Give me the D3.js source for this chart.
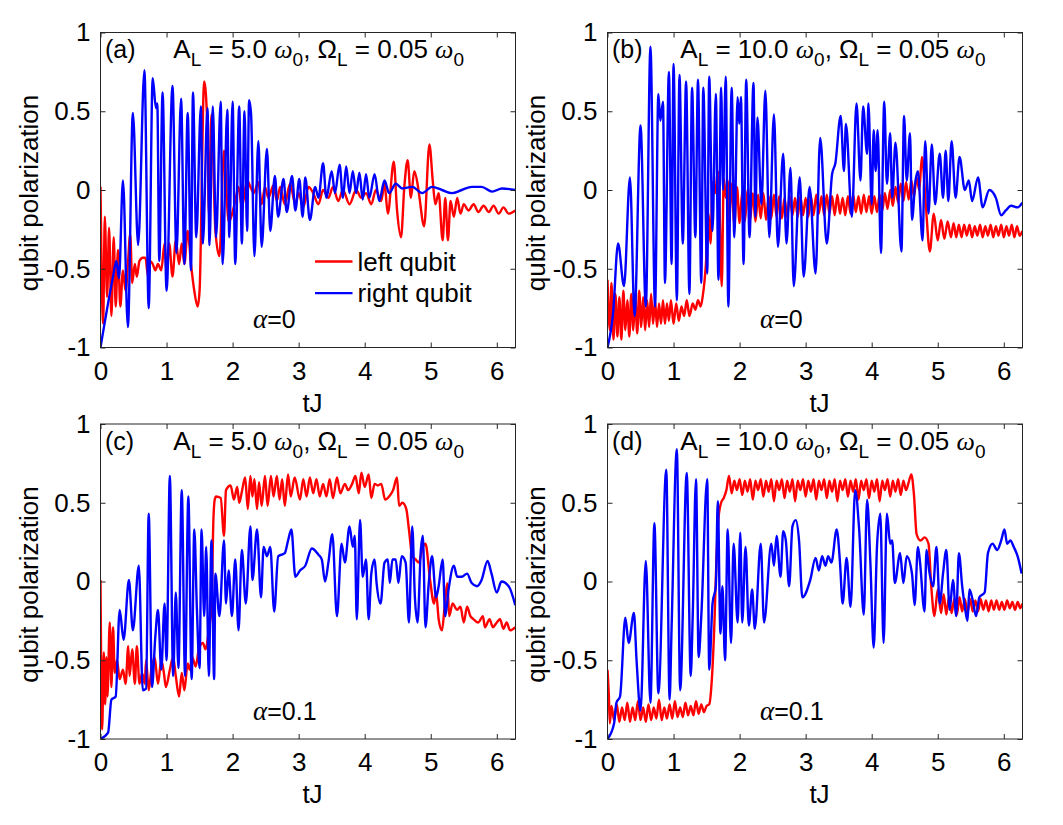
<!DOCTYPE html>
<html>
<head>
	<title>qubit polarization</title>
	<meta charset="utf-8">
	<script type="text/javascript" src="https://d3js.org/d3.v7.min.js"></script>
	<style type="text/css">
		body { margin: 0; background: #fff; }
		svg { font-family: "Liberation Sans", Arial, Helvetica, sans-serif; }
		.axis line { stroke: #262626; }
		.axis text { font-size: 26px; fill: #000; }
		.frame { fill: none; stroke: #262626; stroke-width: 1; }
		.curve { fill: none; stroke-width: 2.4; stroke-linejoin: round; }
		.greek { font-family: "Liberation Serif", "DejaVu Serif", serif; font-style: italic; }
		.title { font-size: 25px; white-space: pre; }
		.formula { font-size: 26px; white-space: pre; }
		.label { font-size: 26px; }
	</style>
</head>
<body>
<script type="text/javascript">
	var width = 1063;
	var height = 825;
	var plotW = 415;
	var plotH = 315;

	var tTicks = [0, 1, 2, 3, 4, 5, 6];
	var yTicks = [-1, -0.5, 0, 0.5, 1];
	var panelTags = ["(a)", "(b)", "(c)", "(d)"];
	var ampL = ["5.0", "10.0", "5.0", "10.0"];
	var omegaL = ["0.05", "0.05", "0.05", "0.05"];
	var alphaVals = ["0", "0", "0.1", "0.1"];
	var seriesNames = ["left qubit", "right qubit"];
	var seriesColors = ["#ff0000", "#0000ff"];

	// series as [tJ, polarization]
	var aLeft = [[0,.02],[.04,-.85],[.065,-.17],[.10,-.68],[.13,-.24],[.165,-.80],[.20,-.30],[.23,-.74],[.265,-.38],[.30,-.74],[.34,-.51],[.38,-.64],[.415,-.47],[.45,-.28],[.48,-.59],[.52,-.47],[.55,-.55],[.59,-.45],[.64,-.43],[.68,-.43],[.72,-.55],[.74,-.45],[.79,-.47],[.83,-.51],[.87,-.47],[.92,-.51],[.97,-.34],[1.0,-.53],[1.04,-.34],[1.09,-.55],[1.14,-.32],[1.19,-.47],[1.23,-.34],[1.27,-.47],[1.32,-.26],[1.37,-.47],[1.42,-.64],[1.47,-.74],[1.50,-.64],[1.57,.69],[1.62,.38],[1.64,-.15],[1.68,.48],[1.74,-.26],[1.80,-.42],[1.87,.25],[1.94,-.20],[2.04,-.07],[2.09,.02],[2.14,-.11],[2.22,.06],[2.27,.02],[2.32,-.02],[2.39,.05],[2.44,-.09],[2.49,.02],[2.54,-.05],[2.62,.03],[2.67,-.07],[2.72,.02],[2.79,-.09],[2.87,.04],[2.95,-.09],[3.0,-.02],[3.07,-.11],[3.15,.02],[3.22,-.02],[3.30,-.09],[3.37,0],[3.45,-.05],[3.52,.02],[3.60,-.07],[3.67,0],[3.77,-.09],[3.87,0],[3.95,-.05],[4.02,-.02],[4.10,-.09],[4.17,0],[4.25,-.07],[4.30,.04],[4.35,-.15],[4.44,.18],[4.49,-.13],[4.55,-.30],[4.60,.02],[4.65,.19],[4.70,-.05],[4.75,.12],[4.80,.04],[4.83,-.05],[4.90,-.23],[4.98,.29],[5.03,.06],[5.07,-.09],[5.12,-.02],[5.18,-.32],[5.22,-.05],[5.26,-.32],[5.30,-.07],[5.35,-.17],[5.40,-.05],[5.45,-.15],[5.50,-.09],[5.57,-.13],[5.65,-.09],[5.72,-.14],[5.80,-.10],[5.88,-.14],[5.95,-.10],[6.03,-.15],[6.10,-.11],[6.18,-.15],[6.28,-.13]];
	var aRight = [[0,-1],[.19,-.55],[.24,-.45],[.28,-.56],[.34,.06],[.415,-.87],[.49,.49],[.57,-.35],[.665,.76],[.73,-.75],[.79,.71],[.84,.52],[.86,.55],[.89,-.45],[.94,.62],[1.0,-.64],[1.09,.66],[1.15,-.40],[1.22,.58],[1.27,-.47],[1.32,.49],[1.37,-.51],[1.40,.62],[1.45,-.30],[1.52,.53],[1.55,-.34],[1.62,.52],[1.65,-.35],[1.70,.53],[1.75,-.30],[1.82,.56],[1.85,-.47],[1.92,.51],[1.95,-.30],[2.0,.56],[2.04,-.47],[2.10,.53],[2.14,-.34],[2.18,.50],[2.22,-.26],[2.25,.57],[2.28,.48],[2.33,-.42],[2.39,.31],[2.44,-.36],[2.52,.26],[2.57,-.26],[2.64,.09],[2.69,-.17],[2.77,.07],[2.82,-.14],[2.90,.09],[2.95,-.13],[3.01,.07],[3.06,-.17],[3.10,.08],[3.17,-.19],[3.25,.02],[3.30,-.05],[3.37,.17],[3.42,-.05],[3.50,.12],[3.55,-.02],[3.62,.16],[3.67,-.05],[3.72,.15],[3.77,-.02],[3.82,.12],[3.87,-.02],[3.92,.11],[3.97,-.06],[4.02,.10],[4.07,-.05],[4.15,.10],[4.22,-.07],[4.30,.06],[4.37,-.02],[4.47,.04],[4.57,.01],[4.72,.02],[4.87,-.02],[5.02,.02],[5.17,0],[5.32,-.02],[5.47,0],[5.62,.02],[5.77,.02],[5.93,-.01],[6.08,.01],[6.28,0]];

	var bLeft = [[0,-.57],[.035,-.89],[.06,-.59],[.09,-.95],[.12,-.66],[.15,-.93],[.18,-.68],[.21,-.95],[.24,-.64],[.27,-.89],[.30,-.70],[.33,-.93],[.36,-.66],[.39,-.89],[.42,-.68],[.45,-.91],[.48,-.64],[.51,-.87],[.54,-.68],[.57,-.89],[.60,-.70],[.63,-.87],[.66,-.66],[.69,-.85],[.72,-.70],[.75,-.87],[.78,-.72],[.81,-.85],[.84,-.70],[.87,-.85],[.90,-.72],[.93,-.83],[.96,-.70],[1.0,-.85],[1.04,-.72],[1.08,-.83],[1.12,-.74],[1.16,-.80],[1.20,-.70],[1.24,-.80],[1.29,-.72],[1.33,-.76],[1.37,-.70],[1.41,-.74],[1.44,-.68],[1.49,-.47],[1.53,-.15],[1.56,-.34],[1.59,.05],[1.63,-.02],[1.67,.12],[1.70,-.17],[1.73,-.61],[1.76,.08],[1.79,-.05],[1.82,.06],[1.84,-.20],[1.88,.04],[1.92,-.22],[1.96,.02],[2.00,-.21],[2.04,-.01],[2.08,-.20],[2.12,0],[2.16,-.19],[2.20,-.02],[2.24,-.20],[2.28,-.03],[2.32,-.18],[2.36,-.02],[2.40,-.19],[2.44,-.04],[2.48,-.18],[2.52,-.03],[2.56,-.17],[2.60,-.04],[2.64,-.18],[2.68,-.05],[2.72,-.17],[2.76,-.04],[2.80,-.16],[2.84,-.05],[2.88,-.17],[2.92,-.04],[2.96,-.16],[3.00,-.05],[3.04,-.17],[3.08,-.04],[3.12,-.16],[3.16,-.03],[3.20,-.15],[3.24,-.04],[3.28,-.16],[3.32,-.03],[3.36,-.15],[3.40,-.04],[3.44,-.16],[3.48,-.03],[3.52,-.15],[3.56,-.05],[3.60,-.16],[3.64,-.04],[3.68,-.15],[3.72,-.03],[3.76,-.14],[3.80,-.04],[3.84,-.15],[3.88,-.03],[3.92,-.14],[3.96,-.04],[4.00,-.15],[4.04,-.04],[4.08,-.14],[4.12,-.03],[4.16,-.13],[4.20,-.02],[4.24,-.12],[4.28,0],[4.32,-.10],[4.36,.02],[4.40,-.08],[4.44,.04],[4.48,-.07],[4.52,.05],[4.56,-.06],[4.60,.06],[4.64,-.04],[4.68,.08],[4.72,0],[4.76,.21],[4.82,-.10],[4.88,-.39],[4.94,-.15],[5.00,-.32],[5.05,-.19],[5.10,-.31],[5.15,-.20],[5.20,-.30],[5.24,-.21],[5.28,-.30],[5.32,-.22],[5.36,-.30],[5.40,-.22],[5.44,-.29],[5.48,-.22],[5.52,-.30],[5.56,-.23],[5.60,-.29],[5.64,-.22],[5.68,-.30],[5.72,-.23],[5.76,-.29],[5.80,-.22],[5.84,-.30],[5.88,-.23],[5.92,-.29],[5.96,-.22],[6.00,-.30],[6.04,-.23],[6.08,-.29],[6.12,-.22],[6.16,-.30],[6.20,-.23],[6.24,-.29],[6.28,-.26]];
	var bRight = [[0,-1],[.085,-.78],[.16,-.34],[.25,-.61],[.34,.08],[.41,-.80],[.50,.41],[.58,-.74],[.65,.91],[.72,-.74],[.77,.61],[.80,.44],[.84,.56],[.87,-.59],[.93,.75],[.97,-.47],[1.0,.80],[1.05,-.70],[1.09,.73],[1.14,-.34],[1.19,.69],[1.24,-.66],[1.28,.65],[1.33,-.30],[1.37,.70],[1.42,-.59],[1.45,.65],[1.51,-.53],[1.54,.72],[1.59,-.26],[1.64,.61],[1.68,-.57],[1.72,.65],[1.75,0],[1.79,.72],[1.83,-.74],[1.88,.65],[1.92,-.30],[1.97,.59],[1.995,.42],[2.02,.59],[2.06,-.47],[2.10,.70],[2.15,-.30],[2.21,.68],[2.24,-.17],[2.27,.46],[2.33,-.09],[2.39,.63],[2.45,-.30],[2.52,.48],[2.58,-.36],[2.66,.23],[2.71,-.34],[2.77,.14],[2.82,-.61],[2.91,.08],[2.97,-.55],[3.06,.02],[3.15,-.53],[3.22,.33],[3.32,-.34],[3.40,.10],[3.45,.17],[3.53,.47],[3.58,.12],[3.61,.42],[3.70,-.17],[3.77,.55],[3.83,.06],[3.87,.53],[3.93,.23],[3.95,.55],[4.0,-.09],[4.03,.38],[4.06,.12],[4.09,.38],[4.14,-.40],[4.19,.56],[4.23,.04],[4.28,.36],[4.31,-.05],[4.36,.30],[4.45,-.39],[4.49,.47],[4.53,.06],[4.58,.36],[4.61,-.19],[4.66,.05],[4.70,.12],[4.77,-.32],[4.81,.31],[4.86,-.15],[4.91,.29],[4.96,-.09],[5.03,.23],[5.08,-.05],[5.12,.25],[5.16,-.07],[5.21,.31],[5.27,-.05],[5.33,.21],[5.41,0],[5.47,.06],[5.52,-.07],[5.61,.08],[5.68,-.11],[5.78,0],[5.88,-.05],[5.96,-.16],[6.03,-.13],[6.11,-.10],[6.21,-.11],[6.28,-.08]];

	var cLeft = [[0,.01],[.025,-.94],[.05,-.45],[.07,-.78],[.09,-.48],[.105,-.73],[.14,-.26],[.165,-.67],[.19,-.29],[.215,-.58],[.25,-.50],[.29,-.62],[.34,-.56],[.38,-.65],[.42,-.41],[.44,-.60],[.48,-.43],[.52,-.65],[.55,-.41],[.59,-.65],[.63,-.58],[.67,-.65],[.69,-.50],[.73,-.69],[.77,-.56],[.82,-.48],[.87,-.65],[.92,-.50],[.96,-.58],[.99,-.67],[1.05,-.56],[1.10,-.48],[1.14,-.60],[1.19,-.73],[1.23,-.58],[1.27,-.69],[1.32,-.52],[1.35,-.56],[1.39,-.48],[1.44,-.54],[1.49,-.43],[1.55,-.39],[1.59,-.43],[1.64,-.31],[1.68,-.16],[1.71,.40],[1.73,.52],[1.75,.54],[1.82,.53],[1.87,.29],[1.90,.58],[1.97,.61],[2.02,.52],[2.07,.60],[2.10,.50],[2.14,.57],[2.19,.66],[2.23,.46],[2.27,.67],[2.30,.54],[2.33,.65],[2.37,.46],[2.40,.63],[2.44,.48],[2.49,.67],[2.53,.48],[2.58,.67],[2.62,.54],[2.67,.67],[2.71,.52],[2.75,.65],[2.79,.48],[2.84,.68],[2.88,.54],[2.94,.66],[3.02,.52],[3.07,.65],[3.12,.54],[3.17,.66],[3.22,.56],[3.27,.65],[3.32,.54],[3.37,.62],[3.42,.54],[3.47,.65],[3.52,.53],[3.58,.66],[3.63,.56],[3.70,.62],[3.75,.58],[3.81,.62],[3.86,.67],[3.91,.56],[3.95,.69],[4.0,.60],[4.06,.68],[4.10,.53],[4.15,.62],[4.20,.61],[4.25,.62],[4.31,.52],[4.37,.54],[4.43,.58],[4.49,.66],[4.52,.48],[4.57,.50],[4.63,.46],[4.67,.33],[4.72,.16],[4.77,.14],[4.82,.12],[4.88,.22],[4.92,.24],[4.99,.01],[5.05,-.14],[5.08,-.07],[5.12,-.24],[5.17,-.31],[5.21,-.16],[5.25,-.01],[5.28,-.22],[5.33,-.14],[5.40,-.18],[5.45,-.16],[5.50,-.26],[5.55,-.16],[5.60,-.22],[5.65,-.24],[5.72,-.26],[5.79,-.22],[5.82,-.29],[5.89,-.24],[5.94,-.29],[6.0,-.26],[6.05,-.24],[6.10,-.30],[6.15,-.26],[6.20,-.31],[6.28,-.29]];
	var cRight = [[0,-1],[.115,-.96],[.165,-.75],[.23,-.73],[.29,-.18],[.35,-.37],[.43,.01],[.49,-.31],[.58,.10],[.64,-.69],[.69,-.68],[.73,.43],[.78,-.67],[.83,-.35],[.87,-.18],[.92,-.56],[.97,-.14],[1.0,-.50],[1.05,.67],[1.10,-.60],[1.14,-.07],[1.18,-.55],[1.23,.58],[1.28,-.60],[1.33,.54],[1.38,-.62],[1.42,.33],[1.46,-.18],[1.50,-.55],[1.53,.33],[1.57,-.22],[1.60,.22],[1.64,-.60],[1.68,.26],[1.72,-.62],[1.74,.05],[1.80,-.22],[1.87,.26],[1.90,-.14],[1.94,.07],[1.99,-.22],[2.04,.14],[2.09,-.31],[2.14,.20],[2.20,-.14],[2.27,.35],[2.30,.01],[2.37,.33],[2.43,-.10],[2.47,.22],[2.52,.16],[2.57,.22],[2.63,-.19],[2.69,.16],[2.79,.18],[2.84,.26],[2.89,.33],[2.95,.03],[3.02,.07],[3.10,.10],[3.20,.21],[3.30,.17],[3.35,.14],[3.40,0],[3.45,.12],[3.51,.30],[3.58,-.22],[3.65,.24],[3.70,.12],[3.77,.35],[3.82,.22],[3.85,.29],[3.88,-.24],[3.93,.39],[3.97,.03],[4.02,.14],[4.06,-.24],[4.10,.05],[4.15,.14],[4.18,-.01],[4.24,-.14],[4.30,.12],[4.35,.14],[4.38,-.01],[4.42,.14],[4.47,.14],[4.51,-.01],[4.56,.16],[4.62,.12],[4.67,-.26],[4.72,.35],[4.76,-.10],[4.80,-.26],[4.85,.20],[4.88,.29],[4.92,-.29],[4.97,-.01],[5.02,.16],[5.08,-.10],[5.12,-.03],[5.18,.14],[5.22,-.22],[5.27,-.05],[5.35,.10],[5.40,.03],[5.47,.03],[5.55,.05],[5.62,-.01],[5.70,-.03],[5.77,.01],[5.86,.13],[5.92,.05],[6.0,-.07],[6.07,0],[6.18,-.03],[6.28,-.15]];

	var dLeft = [[0,-.56],[.02,-.72],[.035,-.90],[.06,-.79],[.10,-.88],[.14,-.78],[.18,-.89],[.22,-.80],[.26,-.88],[.30,-.77],[.34,-.89],[.38,-.80],[.42,-.88],[.46,-.76],[.50,-.88],[.54,-.80],[.58,-.89],[.62,-.78],[.66,-.88],[.70,-.80],[.74,-.87],[.78,-.75],[.82,-.88],[.86,-.80],[.90,-.87],[.94,-.78],[.98,-.87],[1.02,-.76],[1.06,-.86],[1.10,-.80],[1.14,-.86],[1.18,-.77],[1.22,-.85],[1.26,-.79],[1.30,-.85],[1.34,-.76],[1.38,-.84],[1.42,-.78],[1.46,-.83],[1.50,-.79],[1.54,-.78],[1.58,-.62],[1.62,-.25],[1.65,.15],[1.68,.40],[1.72,.50],[1.76,.53],[1.80,.58],[1.84,.67],[1.88,.56],[1.92,.64],[1.96,.58],[2.00,.65],[2.04,.55],[2.08,.64],[2.12,.57],[2.16,.65],[2.20,.52],[2.24,.64],[2.28,.58],[2.32,.65],[2.36,.54],[2.40,.64],[2.44,.57],[2.48,.65],[2.52,.51],[2.56,.64],[2.60,.58],[2.64,.65],[2.68,.53],[2.72,.64],[2.76,.57],[2.80,.65],[2.84,.51],[2.88,.64],[2.92,.58],[2.96,.65],[3.00,.54],[3.04,.64],[3.08,.57],[3.12,.65],[3.16,.52],[3.20,.64],[3.24,.58],[3.28,.65],[3.32,.53],[3.36,.64],[3.40,.57],[3.44,.65],[3.48,.51],[3.52,.64],[3.56,.58],[3.60,.65],[3.64,.54],[3.68,.64],[3.72,.57],[3.76,.65],[3.80,.52],[3.84,.64],[3.88,.58],[3.92,.65],[3.96,.53],[4.00,.64],[4.04,.57],[4.08,.65],[4.12,.51],[4.16,.64],[4.20,.58],[4.24,.65],[4.28,.54],[4.32,.64],[4.36,.57],[4.40,.65],[4.44,.55],[4.48,.64],[4.52,.58],[4.56,.63],[4.60,.68],[4.64,.55],[4.68,.30],[4.74,.26],[4.80,.28],[4.86,.24],[4.90,-.02],[4.95,-.22],[5.00,-.05],[5.05,-.20],[5.09,-.08],[5.13,-.21],[5.17,-.10],[5.21,-.20],[5.25,-.11],[5.29,-.21],[5.33,-.10],[5.37,-.19],[5.41,-.11],[5.45,-.20],[5.49,-.11],[5.53,-.19],[5.57,-.12],[5.61,-.19],[5.65,-.11],[5.69,-.18],[5.73,-.12],[5.77,-.19],[5.81,-.12],[5.85,-.18],[5.89,-.12],[5.93,-.18],[5.97,-.13],[6.01,-.18],[6.05,-.12],[6.09,-.17],[6.13,-.13],[6.17,-.18],[6.21,-.13],[6.25,-.17],[6.28,-.14]];
	var dRight = [[0,-1],[.10,-.90],[.135,-.77],[.19,-.73],[.27,-.23],[.32,-.39],[.40,-.20],[.44,-.50],[.50,-.82],[.58,.13],[.65,-.77],[.71,.37],[.77,-.71],[.89,.71],[.94,-.75],[.97,-.30],[1.05,.84],[1.10,-.69],[1.20,.69],[1.26,-.60],[1.29,-.22],[1.34,.65],[1.38,-.48],[1.42,-.22],[1.51,.65],[1.54,-.56],[1.59,-.14],[1.64,-.03],[1.67,.51],[1.71,-.33],[1.74,-.03],[1.78,-.50],[1.82,.33],[1.87,-.39],[1.91,.24],[1.97,-.26],[2.01,.31],[2.04,-.26],[2.09,.22],[2.14,-.28],[2.19,-.05],[2.23,-.30],[2.32,.24],[2.37,-.26],[2.48,.24],[2.52,.10],[2.56,.29],[2.62,.03],[2.66,.32],[2.70,.26],[2.75,-.03],[2.80,.35],[2.85,.39],[2.90,.26],[2.95,-.10],[3.07,.01],[3.15,.15],[3.20,.07],[3.25,.16],[3.30,.10],[3.34,.16],[3.39,.12],[3.47,.33],[3.52,.12],[3.56,-.14],[3.62,.15],[3.68,-.16],[3.75,.58],[3.81,.33],[3.88,-.21],[3.93,.52],[3.98,.12],[4.03,-.42],[4.08,.22],[4.13,.43],[4.18,-.39],[4.23,.43],[4.28,.24],[4.31,.26],[4.35,-.01],[4.43,.18],[4.48,-.01],[4.53,.16],[4.61,.05],[4.65,-.15],[4.70,.22],[4.73,.13],[4.80,-.19],[4.83,.20],[4.87,.07],[4.93,-.03],[4.98,.22],[5.03,-.14],[5.08,.05],[5.13,.20],[5.18,-.18],[5.23,.01],[5.28,-.22],[5.32,.18],[5.37,-.03],[5.41,-.16],[5.45,-.25],[5.48,-.05],[5.53,-.12],[5.58,-.22],[5.63,-.10],[5.71,-.07],[5.76,.18],[5.83,.24],[5.90,.20],[5.96,.26],[6.01,.33],[6.05,.24],[6.10,.26],[6.15,.22],[6.21,.16],[6.27,.05]];

	var panelData = [[aLeft, aRight], [bLeft, bRight], [cLeft, cRight], [dLeft, dRight]];
	var panelPos = [{x: 100.5, y: 32.5}, {x: 607.5, y: 32.5}, {x: 100.5, y: 424}, {x: 607.5, y: 424}];

	//比例尺
	var xscale = d3.scaleLinear()
			.domain([0, 2 * Math.PI])
			.range([0, plotW]);
	var yscale = d3.scaleLinear()
			.domain([-1, 1])
			.range([plotH, 0]);

	var line = d3.line()
			.x(function(d){ return xscale(d[0]); })
			.y(function(d){ return yscale(d[1]); })
			.curve(d3.curveMonotoneX);

	var svg = d3.select("body")
		.append("svg")
		.attr("width", width)
		.attr("height", height);

	panelPos.forEach(function(pos, i){
		var g = svg.append("g")
			.attr("transform", "translate(" + pos.x + "," + pos.y + ")");

		g.append("clipPath")
			.attr("id", "clip" + i)
			.append("rect")
			.attr("width", plotW)
			.attr("height", plotH);

		//曲线: left qubit first, right qubit on top
		panelData[i].forEach(function(series, k){
			g.append("path")
				.datum(series)
				.attr("class", "curve")
				.attr("clip-path", "url(#clip" + i + ")")
				.attr("stroke", seriesColors[k])
				.attr("d", line);
		});

		//坐标轴, ticks point inward on all four sides
		var xb = g.append("g").attr("class", "axis")
			.attr("transform", "translate(0," + plotH + ")")
			.call(d3.axisBottom(xscale).tickValues(tTicks).tickSizeInner(-5).tickSizeOuter(0).tickPadding(14)
				.tickFormat(function(d){ return String(d); }));
		var xt = g.append("g").attr("class", "axis")
			.call(d3.axisTop(xscale).tickValues(tTicks).tickSizeInner(-5).tickSizeOuter(0).tickFormat(""));
		var yl = g.append("g").attr("class", "axis")
			.call(d3.axisLeft(yscale).tickValues(yTicks).tickSizeInner(-5).tickSizeOuter(0).tickPadding(10)
				.tickFormat(function(d){ return String(d); }));
		var yr = g.append("g").attr("class", "axis")
			.attr("transform", "translate(" + plotW + ",0)")
			.call(d3.axisRight(yscale).tickValues(yTicks).tickSizeInner(-5).tickSizeOuter(0).tickFormat(""));
		[xb, xt, yl, yr].forEach(function(a){ a.select(".domain").remove(); });

		g.append("rect")
			.attr("class", "frame")
			.attr("width", plotW)
			.attr("height", plotH);

		//轴标题
		g.append("text")
			.attr("class", "label")
			.attr("x", 212)
			.attr("y", 379)
			.attr("text-anchor", "middle")
			.text("tJ");
		g.append("text")
			.attr("class", "label")
			.attr("transform", "translate(-63," + (plotH / 2 + 3) + ") rotate(-90)")
			.attr("text-anchor", "middle")
			.text("qubit polarization");

		//面板标题
		g.append("text")
			.attr("class", "title")
			.attr("x", 4.5)
			.attr("y", 25.6)
			.text(panelTags[i]);
		var t = g.append("text")
			.attr("class", "formula")
			.attr("x", 72.8)
			.attr("y", 25.6);
		t.append("tspan").text("A");
		t.append("tspan").attr("font-size", 19).attr("dy", 8).text("L");
		t.append("tspan").attr("dy", -8).text(" = " + ampL[i] + " ");
		t.append("tspan").attr("class", "greek").text("\u03c9");
		t.append("tspan").attr("font-size", 19).attr("dy", 8).text("0");
		t.append("tspan").attr("dy", -8).text(", \u03a9");
		t.append("tspan").attr("font-size", 19).attr("dy", 8).text("L");
		t.append("tspan").attr("dy", -8).text(" = " + omegaL[i] + " ");
		t.append("tspan").attr("class", "greek").text("\u03c9");
		t.append("tspan").attr("font-size", 19).attr("dy", 8).text("0");

		var al = g.append("text")
			.attr("class", "title")
			.attr("x", 152.5)
			.attr("y", 295.5);
		al.append("tspan").attr("class", "greek").attr("font-size", 27).text("\u03b1");
		al.append("tspan").text("=" + alphaVals[i]);

		//图例 (panel a only)
		if (i === 0) {
			seriesNames.forEach(function(name, k){
				var ly = 229 + k * 31.6;
				g.append("line")
					.attr("x1", 214.5).attr("x2", 252)
					.attr("y1", ly).attr("y2", ly)
					.attr("stroke", seriesColors[k])
					.attr("stroke-width", 2.4);
				g.append("text")
					.attr("class", "label")
					.attr("x", 257)
					.attr("y", ly)
					.attr("dy", "0.35em")
					.text(name);
			});
		}
	});
</script>
</body>
</html>
